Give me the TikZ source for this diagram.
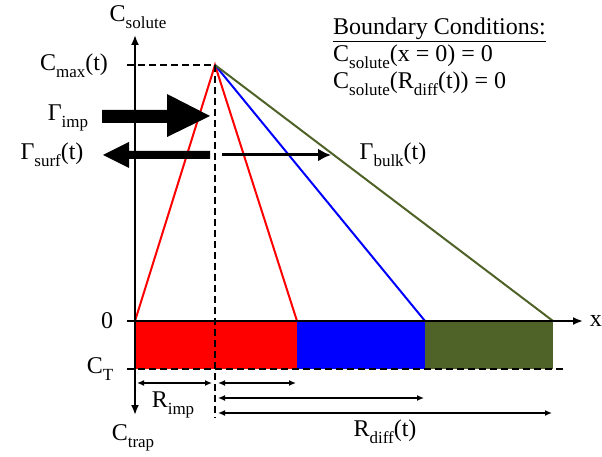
\documentclass[tikz,border=0pt]{standalone}
\usepackage{fontspec}
\setmainfont{Liberation Serif}
\usetikzlibrary{arrows.meta}
\definecolor{olivegreen}{HTML}{4F6228}
\newcommand{\lsub}[1]{\raisebox{-0.3em}{\fontsize{17}{18}\selectfont #1}}
\tikzset{
  lbl/.style={font=\fontsize{24}{26}\selectfont, inner sep=0pt},
  axis/.style={line width=1.9pt},
  dim/.style={line width=1.3pt, {Latex[length=7pt,width=6pt]}-{Latex[length=7pt,width=6pt]}},
  dsh/.style={line width=1.6pt, dash pattern=on 7pt off 4pt},
  prof/.style={line width=2pt}
}
\begin{document}
\begin{tikzpicture}[x=1pt,y=-1pt]
\useasboundingbox (0,0) rectangle (602,457);
% coordinates
\coordinate (O) at (135,321);
\coordinate (P) at (215,65);
\coordinate (R1) at (297,321);
\coordinate (R2) at (425,321);
\coordinate (R3) at (553,321);
% bars
\fill[red] (135,321) rectangle (297,369);
\fill[blue] (297,321) rectangle (425,369);
\fill[olivegreen] (425,321) rectangle (553,369);
% profiles
\draw[prof, red] (O) -- (P) -- (R1);
\draw[prof, blue] (P) -- (R2);
\draw[prof, olivegreen] (P) -- (R3);
% axes
\draw[axis, {Latex[length=10pt,width=8pt]}-{Latex[length=10pt,width=8pt]}] (135,35) -- (135,415);
\draw[axis, -{Latex[length=10pt,width=8pt]}] (127,321) -- (583,321);
% dashed lines
\draw[dsh] (127,65) -- (P);
\draw[dsh] (P) -- (215,418);
\draw[dsh] (127,369) -- (563,369);
% dimension arrows
\draw[dim] (137,383) -- (212,383);
\draw[dim] (218,383) -- (296,383);
\draw[dim] (218,398) -- (424,398);
\draw[dim] (218,413) -- (552,413);
% big arrows
\fill (102,110) -- (167,110) -- (167,94) -- (210,116) -- (167,137) -- (167,123) -- (102,123) -- cycle;
\fill (210,151) -- (129,151) -- (129,142) -- (103,155) -- (129,168) -- (129,159) -- (210,159) -- cycle;
\draw[line width=3pt, -{Latex[length=13pt,width=13pt]}] (222,155) -- (331,155);
% labels
\node[lbl] (csol) at (138,17) {C\lsub{solute}};
\node[lbl] (ctrap) at (133,438) {C\lsub{trap}};
\node[lbl] (cmax) at (74,66) {C\lsub{max}(t)};
\node[lbl] (zero) at (107,321) {0};
\node[lbl] (ct) at (100,369) {C\lsub{T}};
\node[lbl, anchor=east] (xl) at (602,321) {x};
\node[lbl] (rimp) at (173,405) {R\lsub{imp}};
\node[lbl] (rdiff) at (385,432) {R\lsub{diff}(t)};
\node[lbl] (gimp) at (68,118) {Γ\lsub{imp}};
\node[lbl] (gsurf) at (52,155) {Γ\lsub{surf}(t)};
\node[lbl] (gbulk) at (393,155) {Γ\lsub{bulk}(t)};
\node[lbl, anchor=west] (bc1) at (333,30) {\underline{Boundary Conditions:}};
\node[lbl, anchor=west] (bc2) at (333,57) {C\lsub{solute}(x = 0) = 0};
\node[lbl, anchor=west] (bc3) at (333,84) {C\lsub{solute}(R\lsub{diff}(t)) = 0};
\end{tikzpicture}
\end{document}
